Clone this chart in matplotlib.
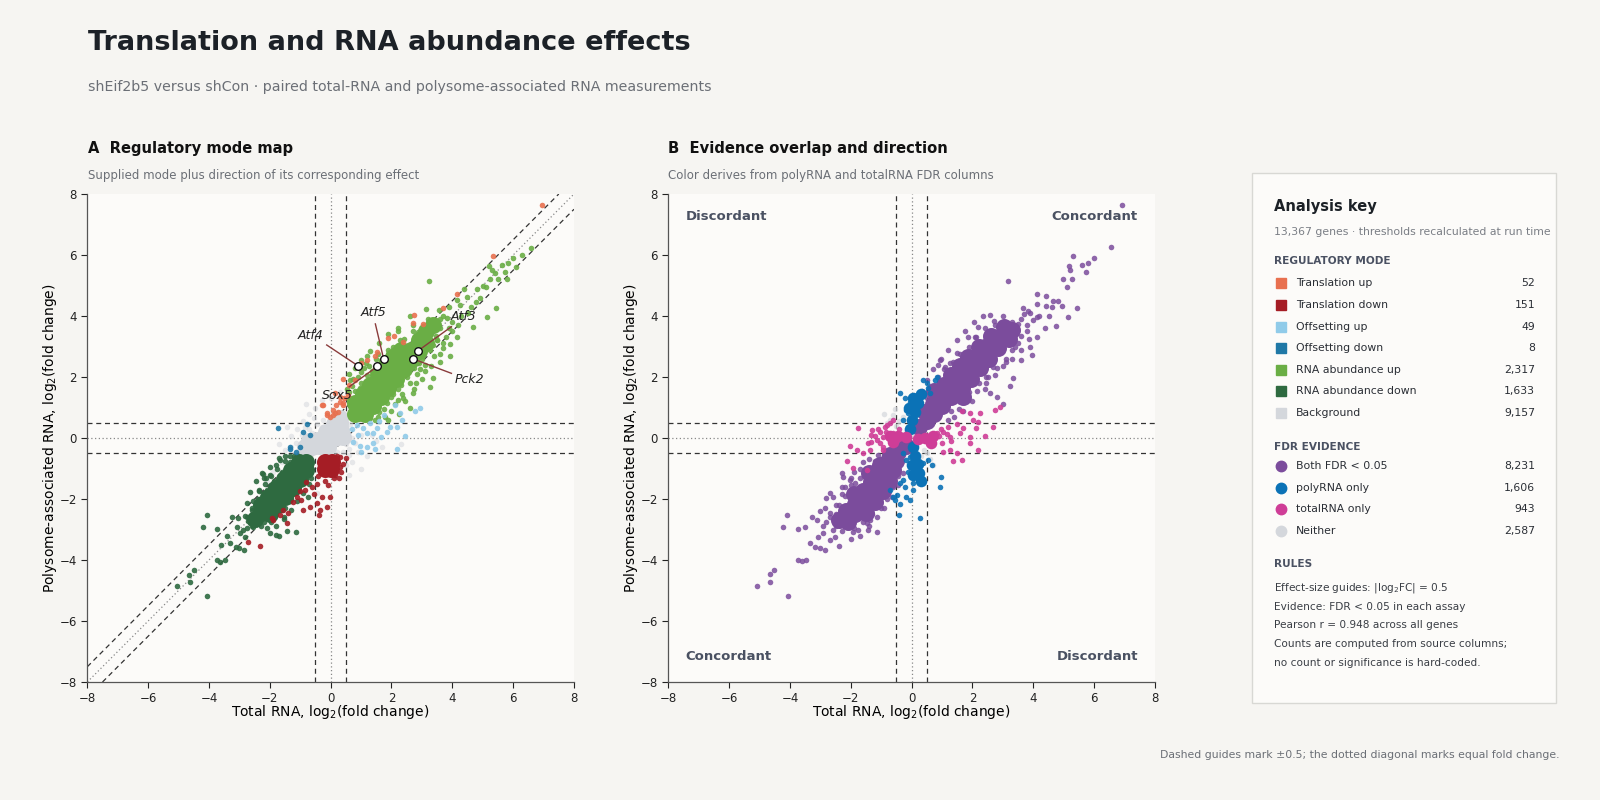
import numpy as np
import matplotlib.pyplot as plt
from matplotlib.patches import Rectangle
from matplotlib.lines import Line2D

plt.rcParams['font.family'] = ['DejaVu Sans']

# ---------------- panel A: regulatory mode (x = total RNA, y = polysome RNA) -------------
# dense cores (drawn with bigger markers) and scattered genes
rna_up_core = [(0.8, 0.8), (1.12, 0.8), (0.9, 0.82), (1.15, 1.1), (1.4, 1.4), (1.65, 1.7),
               (1.9, 2.0), (2.15, 2.3), (2.4, 2.6), (2.65, 2.9), (2.9, 3.2), (3.15, 3.5),
               (0.8, 1.15), (1.05, 1.45), (1.3, 1.75), (1.55, 2.05), (1.8, 2.35), (2.05, 2.65),
               (2.3, 2.9), (1.4, 1.05), (1.65, 1.35), (1.9, 1.65), (2.15, 1.95), (2.4, 2.25),
               (2.65, 2.55), (2.9, 2.85), (3.15, 3.1), (3.35, 3.7)]
rna_up = [(6.57, 6.24), (6.0, 5.89), (5.83, 5.73), (5.72, 5.45), (5.62, 5.67), (5.21, 5.64),
          (5.30, 5.51), (5.25, 5.20), (5.12, 4.94), (5.45, 4.25), (5.14, 3.98), (3.22, 5.16),
          (4.47, 4.63), (4.79, 4.47), (4.14, 4.53), (4.25, 4.36), (3.81, 3.92), (4.68, 3.65),
          (4.14, 3.32), (3.92, 3.08), (2.60, 4.00), (3.15, 4.22), (2.71, 3.71), (2.22, 3.62),
          (2.88, 3.49), (2.27, 3.21), (3.94, 2.69), (3.59, 2.50), (2.93, 2.25), (3.37, 1.97),
          (3.26, 1.68), (2.71, 1.47), (2.38, 1.30), (4.3, 4.0), (4.0, 3.8), (3.8, 3.3),
          (3.6, 3.9), (4.5, 4.1), (3.3, 3.5), (1.1, 2.3), (0.9, 2.0), (0.7, 1.7), (1.5, 2.6),
          (1.9, 2.9), (2.6, 1.0), (2.0, 0.9), (1.9, 0.6), (2.8, 1.8), (3.1, 2.2), (0.6, 1.5),
          (1.2, 2.7), (2.9, 3.4), (3.5, 3.2), (4.0, 3.5), (4.6, 4.3), (4.9, 4.6), (5.0, 5.0),
          (4.8, 4.9), (4.4, 4.9), (5.5, 5.2), (5.4, 5.4), (5.8, 5.2), (6.1, 5.6), (6.3, 6.0),
          (0.65, 1.9), (1.0, 2.15), (1.7, 2.45), (2.05, 3.0), (2.55, 2.2), (3.05, 2.85),
          (3.7, 3.1), (1.75, 0.95), (2.2, 1.25), (3.4, 3.6), (3.9, 3.6), (4.2, 3.7),
          (0.6, 1.25), (0.8, 1.55), (1.0, 1.8), (1.2, 2.05), (1.45, 2.3), (1.65, 2.55),
          (1.9, 2.75), (2.15, 3.0), (2.4, 3.25), (2.7, 3.5), (0.95, 1.65), (1.35, 2.2),
          (1.75, 2.6), (2.05, 2.9), (1.45, 0.6), (1.6, 0.85), (1.85, 1.15), (2.05, 1.45),
          (2.3, 1.75), (2.5, 2.0), (2.75, 2.3), (3.0, 2.6), (3.25, 2.9), (3.5, 3.2),
          (1.55, 0.7), (2.2, 1.6), (2.9, 2.45), (3.35, 3.05), (3.2, 3.9), (3.45, 3.85),
          (3.7, 4.0), (3.55, 4.2), (3.9, 4.3), (3.3, 3.7), (3.45, 3.35), (3.6, 3.6),
          (0.55, 1.6), (0.6, 2.1), (0.8, 2.3), (1.0, 2.55), (1.3, 2.85), (1.6, 3.1),
          (1.9, 3.4), (2.2, 3.5), (0.75, 1.95), (1.15, 2.45), (1.8, 0.7), (2.1, 1.1),
          (2.35, 1.45), (2.6, 1.8), (2.85, 2.1), (3.1, 2.4), (3.4, 2.7), (3.7, 2.95),
          (2.25, 0.8), (2.45, 1.2), (2.75, 1.6), (3.0, 1.95), (3.3, 2.35), (3.6, 2.75),
          (0.65, 1.05), (1.3, 0.65), (1.55, 1.0), (2.0, 1.35), (1.25, 2.35), (1.55, 2.75)]
transl_up = [(6.95, 7.63), (5.34, 5.97), (4.14, 4.72), (3.70, 4.26), (3.04, 3.74), (2.75, 4.03),
             (2.08, 3.35), (1.89, 3.27), (1.20, 2.56), (1.0, 2.45), (1.45, 2.7), (0.41, 1.92),
             (0.61, 1.74), (0.14, 1.47), (0.30, 1.19), (0.19, 1.08), (0.41, 1.14), (0.08, 0.92),
             (-0.24, 1.07), (-0.13, 0.81), (0.08, 0.76), (-0.03, 0.68), (-0.27, 1.08),
             (-0.13, 0.75), (0.14, 0.81), (0.25, 0.86), (0.41, 1.08), (0.45, 1.3), (0.3, 1.35),
             (0.58, 1.41), (0.8, 1.9), (1.51, 2.83), (2.39, 3.16), (2.71, 3.76)]
rna_down_core = [(-0.8, -0.8), (-1.05, -1.05), (-1.3, -1.35), (-1.55, -1.65), (-1.8, -1.95),
                 (-2.05, -2.2), (-2.3, -2.45), (-1.05, -0.8), (-1.3, -1.05), (-1.55, -1.35),
                 (-1.8, -1.65), (-2.05, -1.95), (-2.3, -2.2), (-0.8, -1.05), (-1.0, -1.35),
                 (-1.25, -1.65), (-1.5, -1.95), (-1.75, -2.2), (-2.0, -2.5), (-2.5, -2.65)]
rna_down = [(-4.06, -2.52), (-4.19, -2.91), (-3.72, -2.98), (-3.25, -2.58), (-3.04, -2.63),
            (-2.76, -2.58), (-2.71, -2.71), (-5.06, -4.84), (-4.63, -4.71), (-4.65, -4.49),
            (-4.48, -4.33), (-3.72, -4.00), (-3.64, -4.06), (-3.48, -4.00), (-4.06, -5.17),
            (-3.31, -3.45), (-3.11, -3.56), (-3.0, -3.62), (-2.84, -3.67), (-2.65, -1.76),
            (-2.27, -1.14), (-2.24, -1.18), (-2.11, -1.32), (-2.0, -1.6), (-1.67, -0.72),
            (-1.72, -1.38), (-1.83, -1.49), (-1.89, -1.92), (-1.78, -2.25), (-1.43, -3.04),
            (-1.14, -3.07), (-1.70, -3.21), (-1.81, -3.18), (-3.09, -2.91), (-2.98, -3.13),
            (-2.87, -3.02), (-2.82, -3.24), (-2.65, -2.80), (-2.54, -2.91), (-2.60, -2.36),
            (-2.43, -2.25), (-2.76, -2.14), (-2.5, -2.6), (-2.3, -2.9), (-2.1, -2.6),
            (-2.6, -2.9), (-1.5, -2.3), (-1.3, -2.0), (-2.4, -2.0), (-2.0, -1.2),
            (-1.8, -0.9), (-1.5, -0.6), (-0.74, -1.92), (-2.2, -2.75), (-1.95, -2.4),
            (-1.55, -2.6), (-2.35, -1.7), (-1.35, -0.6), (-3.4, -3.2), (-3.6, -3.5),
            (-1.35, -0.8), (-1.6, -1.1), (-1.85, -1.4), (-2.1, -1.7), (-2.35, -2.0),
            (-2.6, -2.3), (-2.8, -2.55), (-0.85, -1.4), (-1.1, -1.75), (-1.35, -2.05),
            (-1.6, -2.35), (-1.85, -2.6), (-2.1, -2.95), (-2.75, -2.95),
            (-1.5, -0.75), (-1.75, -1.0), (-1.95, -1.25), (-2.15, -1.5), (-2.35, -1.75),
            (-2.55, -2.05), (-1.7, -0.65), (-2.0, -0.95), (-2.2, -1.3), (-0.7, -1.5),
            (-0.9, -1.8), (-1.1, -2.05), (-1.3, -2.35), (-1.55, -2.65), (-1.8, -2.9),
            (-2.0, -3.1), (-1.2, -0.6), (-0.65, -1.3), (-2.45, -1.4), (-1.95, -2.75)]
transl_down_core = [(-0.2, -0.8), (0.05, -0.8), (-0.2, -1.02), (0.02, -1.02)]
transl_down = [(-2.33, -3.53), (-2.71, -3.40), (-1.89, -2.69), (-1.94, -2.63), (-1.67, -2.52),
               (-1.56, -2.36), (-1.40, -2.47), (-1.45, -2.80), (-1.12, -1.92), (-0.96, -2.03),
               (-0.90, -2.36), (-0.68, -2.25), (-0.85, -1.70), (-0.46, -2.14), (-0.35, -2.36),
               (-0.38, -2.53), (-0.13, -2.25), (-0.03, -1.92), (-0.27, -1.92), (0.28, -1.32),
               (0.52, -0.67), (0.35, -1.1), (0.3, -0.95), (-0.45, -1.5), (-0.2, -1.4),
               (0.1, -1.3), (-0.6, -1.6), (-0.8, -1.45), (-0.55, -1.85), (-1.0, -1.75),
               (-1.25, -2.1), (0.2, -0.6), (0.4, -0.85), (-0.1, -1.55), (0.3, -0.62),
               (-0.4, -1.25), (0.15, -1.2)]
offset_up = [(1.18, 0.15), (1.40, 0.15), (1.51, 0.32), (1.95, 0.35), (2.17, 0.37), (2.33, 0.59),
             (2.44, 0.07), (2.17, -0.37), (1.45, -0.37), (1.40, -0.17), (1.67, 0.04),
             (2.77, 0.90), (2.93, 0.97), (2.11, 1.08), (2.27, 0.81), (1.01, -0.47),
             (0.74, -0.12), (0.91, 0.10), (1.07, 0.32), (1.29, 0.48), (1.85, 0.2), (1.2, -0.3),
             (0.95, -0.25), (1.6, 0.55), (1.75, 0.75), (0.7, 0.3), (0.85, 0.42)]
offset_down = [(-1.73, 0.34), (-0.79, 0.45), (-0.68, 0.10), (-1.34, -0.36), (-1.32, -0.28),
               (-1.14, -0.47), (-0.9, 0.2), (-1.0, -0.3)]
backgr_core = [(-0.85, -0.3), (-0.6, -0.3), (-0.35, -0.25), (-0.45, -0.05), (-0.15, -0.05),
               (0.15, 0.0), (-0.15, 0.2), (0.15, 0.2), (0.35, 0.25), (0.1, 0.45), (0.3, 0.5),
               (0.3, 0.65), (-0.1, -0.3), (0.4, 0.02), (-0.7, -0.1)]
backgr = [(-1.6, -0.8), (-1.5, -0.4), (-1.3, 0.05), (-1.1, 0.3), (-0.9, 0.55), (-0.7, 0.8),
          (-0.5, 1.0), (-0.3, 1.25), (0.0, 1.3), (0.6, -0.55), (0.9, -0.45), (1.2, -0.6),
          (1.35, 0.1), (1.5, -0.1), (1.1, 0.6), (0.5, -0.9), (0.6, -1.2), (-1.9, -1.1),
          (-1.7, -0.2), (1.7, -0.3), (-0.45, -1.8), (0.7, -0.8), (0.8, 0.75), (-1.45, 0.35),
          (1.9, 0.6), (2.3, -0.2), (-0.8, 1.1), (0.3, 1.5), (-2.1, -1.4), (1.0, -1.0),
          (-1.15, -0.15), (-0.95, 0.1), (-0.7, 0.3), (-0.45, 0.45), (-0.25, 0.6), (0.5, -0.2),
          (0.7, 0.0), (0.6, -0.35), (0.4, -0.45), (-1.2, -0.55), (0.55, 0.2), (-0.6, 0.15),
          (-1.0, -0.45), (-1.3, -0.3), (-0.85, 0.35), (-0.55, 0.65), (0.65, 0.45), (0.8, -0.15),
          (1.0, 0.1), (-1.4, -0.6), (0.2, -0.45), (-0.3, 0.35)]

genes = ['Atf4', 'Atf5', 'Sox5', 'Atf3', 'Pck2']
gene_xy = [(0.91, 2.36), (1.74, 2.60), (1.54, 2.35), (2.86, 2.85), (2.72, 2.59)]
gene_label_xy = [(-0.65, 3.36), (1.40, 4.11), (0.22, 1.38), (4.36, 3.98), (4.55, 1.92)]
gene_line_from = [(-0.13, 3.05), (1.47, 3.74), (0.61, 1.68), (3.97, 3.65), (3.97, 2.12)]

# ---------------- panel B: FDR evidence -------------
both_core = [(0.25, 0.35), (0.5, 0.55), (0.45, 0.85), (0.75, 0.8), (0.7, 1.1), (1.0, 1.05),
             (1.0, 1.4), (1.3, 1.35), (1.05, 1.75), (1.35, 1.7), (1.65, 1.65), (1.3, 2.05),
             (1.6, 2.0), (1.95, 1.95), (1.6, 2.35), (1.95, 2.35), (2.25, 2.3), (1.85, 2.65),
             (2.2, 2.7), (2.55, 2.6), (2.2, 3.0), (2.55, 3.0), (2.85, 2.95), (2.6, 3.35),
             (2.95, 3.3), (3.2, 3.25), (3.05, 3.65), (3.3, 3.55), (0.75, 1.55), (1.7, 1.35),
             (-0.2, -0.25), (-0.45, -0.45), (-0.7, -0.55), (-0.5, -0.75), (-0.8, -0.8),
             (-1.05, -0.9), (-0.6, -1.05), (-0.9, -1.1), (-1.2, -1.15), (-0.75, -1.4),
             (-1.05, -1.45), (-1.35, -1.45), (-0.95, -1.75), (-1.25, -1.8), (-1.6, -1.75),
             (-1.9, -1.85), (-1.2, -2.1), (-1.5, -2.1), (-1.85, -2.15), (-1.5, -2.45),
             (-1.85, -2.5), (-2.15, -2.4), (-2.1, -2.75), (-2.4, -2.7), (-1.4, -1.15)]
both = [(6.93, 7.63), (6.54, 6.25), (5.31, 5.97), (5.99, 5.89), (5.80, 5.73), (5.61, 5.67),
        (5.72, 5.45), (5.18, 5.64), (5.22, 5.51), (5.26, 5.20), (4.98, 5.21), (5.11, 4.94),
        (5.44, 4.25), (5.15, 3.98), (4.74, 3.68), (3.17, 5.16), (4.11, 4.72), (4.43, 4.64),
        (4.11, 4.39), (4.41, 4.33), (4.65, 4.49), (4.82, 4.50), (4.95, 4.33), (3.67, 4.25),
        (3.83, 4.18), (4.00, 3.87), (4.11, 3.98), (4.38, 3.60), (4.11, 3.32), (3.97, 2.72),
        (3.61, 2.56), (3.34, 1.97), (3.23, 1.71), (3.0, 1.1), (2.57, 4.03), (2.74, 3.71),
        (2.19, 3.63), (1.86, 3.32), (2.08, 3.32), (1.81, 2.78), (1.48, 2.80), (0.93, 2.56),
        (0.87, 2.39), (1.26, 2.47), (1.09, 2.34), (2.39, 3.17), (2.57, 2.89), (2.35, 2.72),
        (2.68, 2.34), (2.46, 2.01), (2.57, 1.47), (2.79, 1.36), (3.6, 3.9), (3.8, 3.5),
        (3.4, 3.0), (3.1, 2.5), (3.9, 4.1), (4.2, 4.0), (3.3, 3.8), (2.9, 3.3), (1.3, 2.2),
        (1.0, 1.9), (2.4, 1.6), (2.0, 1.2), (1.7, 0.9), (1.4, 0.7), (1.9, 2.6), (2.3, 3.0),
        (4.5, 4.0), (4.6, 4.3), (3.9, 3.0),
        (0.3, 0.9), (0.5, 1.3), (0.65, 1.65), (0.85, 2.0), (1.05, 2.25), (1.35, 2.5),
        (1.6, 2.75), (1.9, 3.0), (2.1, 3.3), (2.4, 3.6), (2.7, 3.85), (3.0, 4.0), (1.3, 0.9),
        (1.6, 1.2), (1.9, 1.5), (2.2, 1.8), (2.5, 2.0), (2.8, 2.3), (3.1, 2.6), (3.3, 2.9),
        (3.5, 3.1), (3.6, 3.35), (3.5, 3.75), (3.8, 3.7), (3.7, 4.05),
        (0.2, 1.1), (0.35, 1.55), (0.5, 1.9), (0.7, 2.25), (0.95, 2.6), (1.2, 2.9),
        (1.5, 3.2), (1.75, 3.5), (2.05, 3.8), (2.35, 4.0), (1.55, 0.95), (1.85, 1.25),
        (2.15, 1.55), (2.45, 1.8), (2.75, 2.05), (3.0, 2.35), (3.3, 2.6), (3.6, 2.9),
        (3.85, 3.25), (1.2, 0.6),
        (-5.10, -4.84), (-4.66, -4.71), (-4.66, -4.47), (-4.51, -4.33), (-4.08, -5.17),
        (-3.73, -4.0), (-3.62, -4.03), (-3.47, -4.0), (-4.09, -2.52), (-4.22, -2.91),
        (-3.73, -2.98), (-3.51, -2.91), (-3.27, -2.60), (-3.34, -3.43), (-3.18, -3.56),
        (-3.01, -3.62), (-2.85, -3.67), (-2.38, -3.53), (-2.69, -3.34), (-2.52, -3.24),
        (-2.90, -3.13), (-3.07, -3.24), (-2.8, -1.98), (-2.69, -1.81), (-2.30, -1.16),
        (-2.25, -1.27), (-2.03, -1.38), (-2.19, -1.60), (-1.86, -1.49), (-1.92, -3.07),
        (-1.75, -3.02), (-1.43, -3.02), (-1.15, -3.07), (-1.48, -2.80), (-1.37, -2.69),
        (-2.5, -2.9), (-2.7, -2.6), (-2.4, -2.2), (-2.1, -2.8), (-1.8, -2.5), (-1.2, -2.2),
        (-1.0, -1.9), (-2.2, -1.9), (-2.9, -2.9), (-3.0, -2.4), (-1.6, -0.8), (-1.9, -1.1),
        (-0.85, -0.5), (-1.2, -0.75), (-1.5, -1.0), (-1.7, -1.3), (-2.0, -1.55),
        (-2.3, -1.85), (-2.5, -2.2), (-2.7, -2.45), (-0.35, -0.8), (-0.45, -1.25),
        (-0.6, -1.6), (-0.8, -2.0), (-1.0, -2.3), (-1.3, -2.5), (-1.6, -2.75), (-1.9, -2.95),
        (-2.3, -3.05), (-2.6, -3.0), (-2.8, -2.75), (-2.5, -2.5),
        (-1.1, -0.55), (-1.4, -0.7), (-1.7, -1.0), (-2.0, -1.3), (-2.3, -1.6),
        (-2.6, -1.95), (-2.85, -2.3), (-3.1, -2.7), (-0.3, -1.15), (-0.45, -1.55),
        (-0.65, -1.95), (-0.9, -2.3), (-1.15, -2.6), (-1.4, -2.9), (-1.7, -3.2),
        (-2.0, -3.3)]
poly_core = [(-0.05, 0.3), (0.0, 0.6), (0.1, 0.85), (-0.1, 1.0), (0.2, 1.15), (0.3, 1.45),
             (0.05, 1.3), (0.05, -0.3), (0.1, -0.6), (0.2, -0.85), (0.0, -0.9), (0.25, -1.15),
             (0.05, -1.2), (0.3, -1.4)]
poly = [(-0.39, 1.47), (-0.22, 1.30), (-0.06, 1.19), (0.05, 1.03), (-0.17, 0.92), (0.11, 0.86),
        (0.38, 1.90), (0.49, 1.79), (0.55, 1.63), (0.60, 1.47), (0.76, 1.90), (0.84, 1.99),
        (0.16, 1.41), (0.22, 1.25), (0.05, 1.36), (-0.11, 0.81), (-0.28, 0.59), (-0.06, 0.59),
        (-0.28, -0.50), (-0.17, -0.72), (-0.06, -0.61), (0.05, -0.83), (0.16, -0.94),
        (-0.11, -1.10), (-0.28, -1.38), (-0.39, -1.49), (-0.22, -1.60), (0.05, -1.70),
        (-0.17, -1.92), (-0.06, -2.03), (-0.39, -2.16), (-0.41, -2.52), (0.29, -2.63),
        (0.93, -1.62), (0.98, -1.27), (0.66, -0.88), (0.55, -0.72), (0.38, -0.83),
        (0.22, -1.10), (0.05, -1.49), (-0.60, -1.92), (-0.49, -1.87), (-0.71, -1.70),
        (-0.55, -2.03)]
total_core = [(-0.2, 0.03), (-0.45, 0.08), (-0.7, 0.08), (-0.6, -0.12),
              (0.2, -0.03), (0.45, 0.0), (0.7, 0.05), (0.65, -0.15)]
total = [(-1.75, 0.34), (-2.03, -0.25), (-2.14, -0.75), (-1.43, -0.18), (-1.32, -0.12),
         (-1.15, -0.07), (-0.93, 0.04), (-1.04, 0.21), (-0.88, 0.37), (-0.82, 0.43),
         (-0.71, 0.48), (-0.60, 0.15), (-1.37, -0.39), (-1.59, -0.50), (-1.81, -0.39),
         (-1.92, -0.99), (-1.48, -1.05), (-0.93, -0.28), (1.64, -0.72), (1.37, -0.75),
         (1.48, -0.50), (1.26, -0.39), (1.04, -0.45), (1.91, -0.17), (2.19, -0.39),
         (2.41, 0.07), (2.13, 0.32), (2.19, 0.54), (2.02, 0.59), (2.74, 0.92), (2.90, 1.01),
         (1.91, 0.81), (1.70, 0.32), (1.59, 0.15), (1.26, 0.04), (1.04, 0.21), (0.82, 0.15),
         (0.71, -0.07), (0.55, -0.17), (0.38, -0.04), (-1.32, 0.10), (-0.60, 0.59),
         (1.64, 0.90), (2.24, 0.83), (2.68, 0.37), (1.91, 0.04), (1.5, 0.45), (1.2, 0.35),
         (0.95, 0.3), (-1.1, 0.3), (-1.3, 0.25), (-0.4, 0.3), (-1.05, -0.18), (-1.2, 0.05),
         (-0.95, -0.4), (1.0, -0.15), (1.15, 0.12), (1.3, -0.1), (0.9, 0.05), (-0.85, 0.2)]
neither = [(-0.5, 0.4), (-0.7, 0.6), (-0.6, 0.75), (-0.4, 0.55), (-0.3, 0.7), (-0.8, 0.5),
           (0.4, -0.4), (0.3, -0.6), (0.6, -0.7), (0.5, -0.5), (-0.2, 0.2), (0.15, -0.15),
           (-0.9, 0.8), (0.7, -0.9), (-0.55, 0.95), (0.2, 0.05), (-0.1, -0.05), (0.0, 0.1)]

# legend text
mode_names = ['Translation up', 'Translation down', 'Offsetting up', 'Offsetting down',
              'RNA abundance up', 'RNA abundance down', 'Background']
mode_counts = ['52', '151', '49', '8', '2,317', '1,633', '9,157']
mode_colors = ['#e8704f', '#a51d25', '#90cbe9', '#1f78a6', '#6aae45', '#2e6a40', '#d4d7dc']
evid_names = ['Both FDR < 0.05', 'polyRNA only', 'totalRNA only', 'Neither']
evid_counts = ['8,231', '1,606', '943', '2,587']
evid_colors = ['#7b4c9c', '#0b72b6', '#cf3d97', '#d4d7dc']
rules = ['Effect-size guides: |log$_2$FC| = 0.5', 'Evidence: FDR < 0.05 in each assay',
         'Pearson r = 0.948 across all genes', 'Counts are computed from source columns;',
         'no count or significance is hard-coded.']

BG = '#f6f5f2'
PANEL = '#fcfbf9'
GREY = '#6b6f76'
SLATE = '#4a5162'
CORE = 150   # marker area for the dense cores
CORE_SMALL = 70
DOT = 16


def fx(px):
    return px / 1600


def fy(py):
    return 1 - py / 800


def pts(lst):
    a = np.array(lst)
    return a[:, 0], a[:, 1]


def style(ax):
    ax.set_facecolor(PANEL)
    ax.set_xlim(-8, 8)
    ax.set_ylim(-8, 8)
    for s in ['top', 'right']:
        ax.spines[s].set_visible(False)
    for s in ['left', 'bottom']:
        ax.spines[s].set_color('#555555')
        ax.spines[s].set_linewidth(0.9)
    ax.set_xticks(range(-8, 9, 2))
    ax.set_yticks(range(-8, 9, 2))
    ax.tick_params(labelsize=8.5, colors='#222222', length=4, width=0.8)
    ax.set_xlabel('Total RNA, log$_2$(fold change)', fontsize=10, labelpad=-2)
    ax.set_ylabel('Polysome-associated RNA, log$_2$(fold change)', fontsize=10, labelpad=0.5)
    for v in (-0.5, 0.5):
        ax.axvline(v, color='#333333', lw=0.9, ls=(0, (4, 3)), zorder=1)
        ax.axhline(v, color='#333333', lw=0.9, ls=(0, (4, 3)), zorder=1)
    ax.axvline(0, color='#888888', lw=0.9, ls=(0, (1, 2)), zorder=1)
    ax.axhline(0, color='#888888', lw=0.9, ls=(0, (1, 2)), zorder=1)


def dots(ax, lst, color, s=DOT, alpha=0.9, z=3):
    x, y = pts(lst)
    ax.scatter(x, y, s=s, color=color, alpha=alpha, linewidths=0, zorder=z)


fig = plt.figure(figsize=(16, 8), dpi=100)
fig.patch.set_facecolor(BG)

fig.text(fx(88), fy(43), 'Translation and RNA abundance effects', fontsize=19.5,
         fontweight='bold', color='#1c2127', va='center')
fig.text(fx(88), fy(87), 'shEif2b5 versus shCon \u00b7 paired total-RNA and polysome-associated RNA measurements',
         fontsize=10.2, color=GREY, va='center')

axA = fig.add_axes([fx(87.3), fy(682), 486.7 / 1600, 488 / 800])
axB = fig.add_axes([fx(668.3), fy(682), 486.7 / 1600, 488 / 800])

for ax, tt, st, x0 in [(axA, 'A  Regulatory mode map', 'Supplied mode plus direction of its corresponding effect', 88),
                       (axB, 'B  Evidence overlap and direction', 'Color derives from polyRNA and totalRNA FDR columns', 668)]:
    style(ax)
    fig.text(fx(x0), fy(148), tt, fontsize=10.6, fontweight='bold', color='#111111', va='center')
    fig.text(fx(x0), fy(176), st, fontsize=8.5, color=GREY, va='center')

# panel A
for off, ls, col in [(0.5, (0, (4, 3)), '#333333'), (-0.5, (0, (4, 3)), '#333333'), (0, (0, (1, 2)), '#888888')]:
    axA.axline((0, off), slope=1, color=col, lw=0.9, ls=ls, zorder=1)

dots(axA, backgr, mode_colors[6], alpha=0.55, z=2)
dots(axA, backgr_core, mode_colors[6], s=CORE, alpha=1, z=2)
dots(axA, rna_up, mode_colors[4])
dots(axA, rna_up_core, mode_colors[4], s=CORE, alpha=1)
dots(axA, rna_down, mode_colors[5])
dots(axA, rna_down_core, mode_colors[5], s=CORE, alpha=1)
dots(axA, transl_down_core, mode_colors[1], s=CORE, alpha=1)
dots(axA, transl_down, mode_colors[1], z=4)
dots(axA, transl_up, mode_colors[0], z=4)
dots(axA, offset_up, mode_colors[2], z=4)
dots(axA, offset_down, mode_colors[3], z=4)

for g, (gx, gy), (lx, ly), (sx, sy) in zip(genes, gene_xy, gene_label_xy, gene_line_from):
    axA.plot([sx, gx], [sy, gy], color='#8a3b3b', lw=1, zorder=5)
    axA.scatter([gx], [gy], s=30, facecolor='white', edgecolor='#111111', linewidths=1, zorder=6)
    axA.text(lx, ly, g, fontsize=9, style='italic', ha='center', va='center', color='#222222', zorder=6)

# panel B
dots(axB, neither, evid_colors[3], alpha=0.7, z=2)
dots(axB, both, evid_colors[0], alpha=0.85)
dots(axB, both_core, evid_colors[0], s=CORE, alpha=1)
dots(axB, poly_core, evid_colors[1], s=CORE_SMALL, alpha=1)
dots(axB, poly, evid_colors[1], alpha=0.9, z=4)
dots(axB, total_core, evid_colors[2], s=CORE_SMALL, alpha=1)
dots(axB, total, evid_colors[2], alpha=0.9, z=4)

for tx, ty, t, ha, va in [(0.035, 0.953, 'Discordant', 'left', 'center'),
                          (0.965, 0.953, 'Concordant', 'right', 'center'),
                          (0.035, 0.052, 'Concordant', 'left', 'center'),
                          (0.965, 0.052, 'Discordant', 'right', 'center')]:
    axB.text(tx, ty, t, transform=axB.transAxes, fontsize=9.5, fontweight='bold',
             color=SLATE, ha=ha, va=va)

# analysis key box
fig.add_artist(Rectangle((fx(1251.7), fy(702.7)), (1556 - 1251.7) / 1600, (702.7 - 173.3) / 800,
                         transform=fig.transFigure, facecolor=PANEL, edgecolor='#d8d8d4', lw=1))
fig.text(fx(1274), fy(206.5), 'Analysis key', fontsize=10.5, fontweight='bold', color='#1c2127', va='center')
fig.text(fx(1274), fy(232), '13,367 genes \u00b7 thresholds recalculated at run time', fontsize=7.8,
         color='#7a7e85', va='center')
fig.text(fx(1274), fy(261.5), 'REGULATORY MODE', fontsize=7.6, fontweight='bold', color=SLATE, va='center')
for i, (n, c, col) in enumerate(zip(mode_names, mode_counts, mode_colors)):
    yy = fy(283.3 + 21.6 * i)
    fig.add_artist(Line2D([fx(1281)], [yy], marker='s', markersize=7, color=col, lw=0,
                          transform=fig.transFigure))
    fig.text(fx(1296), yy, n, fontsize=7.8, color='#2a2e35', va='center')
    fig.text(fx(1535), yy, c, fontsize=7.8, color='#2a2e35', va='center', ha='right')
fig.text(fx(1274), fy(447.3), 'FDR EVIDENCE', fontsize=7.6, fontweight='bold', color=SLATE, va='center')
for i, (n, c, col) in enumerate(zip(evid_names, evid_counts, evid_colors)):
    yy = fy(466 + 21.6 * i)
    fig.add_artist(Line2D([fx(1281)], [yy], marker='o', markersize=7.5, color=col, lw=0,
                          transform=fig.transFigure))
    fig.text(fx(1296), yy, n, fontsize=7.8, color='#2a2e35', va='center')
    fig.text(fx(1535), yy, c, fontsize=7.8, color='#2a2e35', va='center', ha='right')
fig.text(fx(1274), fy(564), 'RULES', fontsize=7.6, fontweight='bold', color=SLATE, va='center')
for i, r in enumerate(rules):
    fig.text(fx(1274), fy(587.7 + 18.8 * i), r, fontsize=7.6, color='#3a3e45', va='center')

fig.text(fx(1559), fy(755), 'Dashed guides mark \u00b10.5; the dotted diagonal marks equal fold change.',
         fontsize=7.8, color=GREY, ha='right', va='center')

fig.savefig('out.png', dpi=100, facecolor=BG)
